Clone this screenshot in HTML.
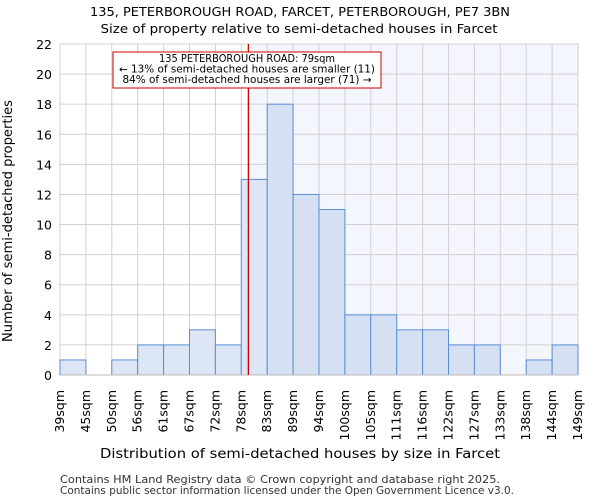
<!DOCTYPE html>
<html><head><meta charset="utf-8"><style>
body{margin:0;background:#fff;font-family:"DejaVu Sans","Liberation Sans",sans-serif}
svg text{font-family:"DejaVu Sans","Liberation Sans",sans-serif}
</style></head><body>
<svg id="c" width="600" height="500" xmlns="http://www.w3.org/2000/svg">
<text x="300" y="16" text-anchor="middle" font-size="12.5" textLength="420" lengthAdjust="spacingAndGlyphs">135, PETERBOROUGH ROAD, FARCET, PETERBOROUGH, PE7 3BN</text>
<text x="299" y="33" text-anchor="middle" font-size="12.5" textLength="397" lengthAdjust="spacingAndGlyphs">Size of property relative to semi-detached houses in Farcet</text>
<g id="plot"></g>
<text x="300" y="458" text-anchor="middle" font-size="13" textLength="400" lengthAdjust="spacingAndGlyphs">Distribution of semi-detached houses by size in Farcet</text>
<text transform="translate(12,221) rotate(-90)" text-anchor="middle" font-size="13" textLength="242" lengthAdjust="spacingAndGlyphs">Number of semi-detached properties</text>
<text x="60" y="483" font-size="10.5" fill="#333" textLength="440" lengthAdjust="spacingAndGlyphs">Contains HM Land Registry data © Crown copyright and database right 2025.</text>
<text x="60" y="494" font-size="10.5" fill="#333" textLength="454" lengthAdjust="spacingAndGlyphs">Contains public sector information licensed under the Open Government Licence v3.0.</text>
</svg>
<script>
const binLabels=["39sqm","45sqm","50sqm","56sqm","61sqm","67sqm","72sqm","78sqm","83sqm","89sqm","94sqm","100sqm","105sqm","111sqm","116sqm","122sqm","127sqm","133sqm","138sqm","144sqm","149sqm"];
const binEdges=[39,44.5,50,55.5,61,66.5,72,77.5,83,88.5,94,99.5,105,110.5,116,121.5,127,132.5,138,143.5,149];
const counts=[1,0,1,2,2,3,2,13,18,12,11,4,4,3,3,2,2,0,1,2];
const yTicks=[0,2,4,6,8,10,12,14,16,18,20,22];
const propertySize=79;
const NS="http://www.w3.org/2000/svg";
const L=60,R=578,T=44,B=375;
const n=binEdges.length-1;
const xi=i=>L+(R-L)*i/n;
const xv=v=>{for(let i=0;i<n;i++){if(v<=binEdges[i+1])return xi(i)+(v-binEdges[i])/(binEdges[i+1]-binEdges[i])*(xi(i+1)-xi(i));}return R;};
const y=v=>B-(B-T)*v/22;
const g=document.getElementById('plot');
function mk(t,a){const e=document.createElementNS(NS,t);for(const k in a)e.setAttribute(k,a[k]);g.appendChild(e);return e;}
const px=xv(propertySize);
let e=mk('rect',{x:px,y:T,width:R-px,height:B-T,fill:'#f4f6fd'});


for(let i=0;i<=n;i++){e=mk('line',{x1:xi(i),x2:xi(i),y1:T,y2:B,stroke:'#d0d0d0'});

}
yTicks.forEach(t=>{e=mk('line',{x1:L,x2:R,y1:y(t),y2:y(t),stroke:'#d0d0d0'});


e=mk('text',{x:L-8,y:y(t)+5,'text-anchor':'end','font-size':'12.5'});e.textContent=t;

});
counts.forEach((c,i)=>{if(c<=0)return;
e=mk('rect',{x:xi(i),y:y(c),width:xi(i+1)-xi(i),height:B-y(c),fill:xi(i)>=px-5?'#d5e0f2':'#dde6f4',stroke:'#5a8ed6','stroke-width':1});

});
binLabels.forEach((l,i)=>{e=mk('text',{transform:`translate(${xi(i)+4},390) rotate(-90)`,'text-anchor':'end','font-size':'12.5'});e.textContent=l;

});
e=mk('line',{x1:L,x2:R,y1:B,y2:B,stroke:'#bbb'});


e=mk('line',{x1:px,x2:px,y1:T,y2:B,stroke:'#d00000','stroke-width':1.3});


e=mk('rect',{x:113,y:52,width:268,height:36,fill:'#fff',stroke:'#d00000'});


[["135 PETERBOROUGH ROAD: 79sqm",176],["← 13% of semi-detached houses are smaller (11)",256],["84% of semi-detached houses are larger (71) →",249]].forEach((s,k)=>{
e=mk('text',{x:247,y:62+k*10.5,'text-anchor':'middle','font-size':'10.2',textLength:s[1],lengthAdjust:'spacingAndGlyphs'});e.textContent=s[0];

});
</script>
</body></html>
